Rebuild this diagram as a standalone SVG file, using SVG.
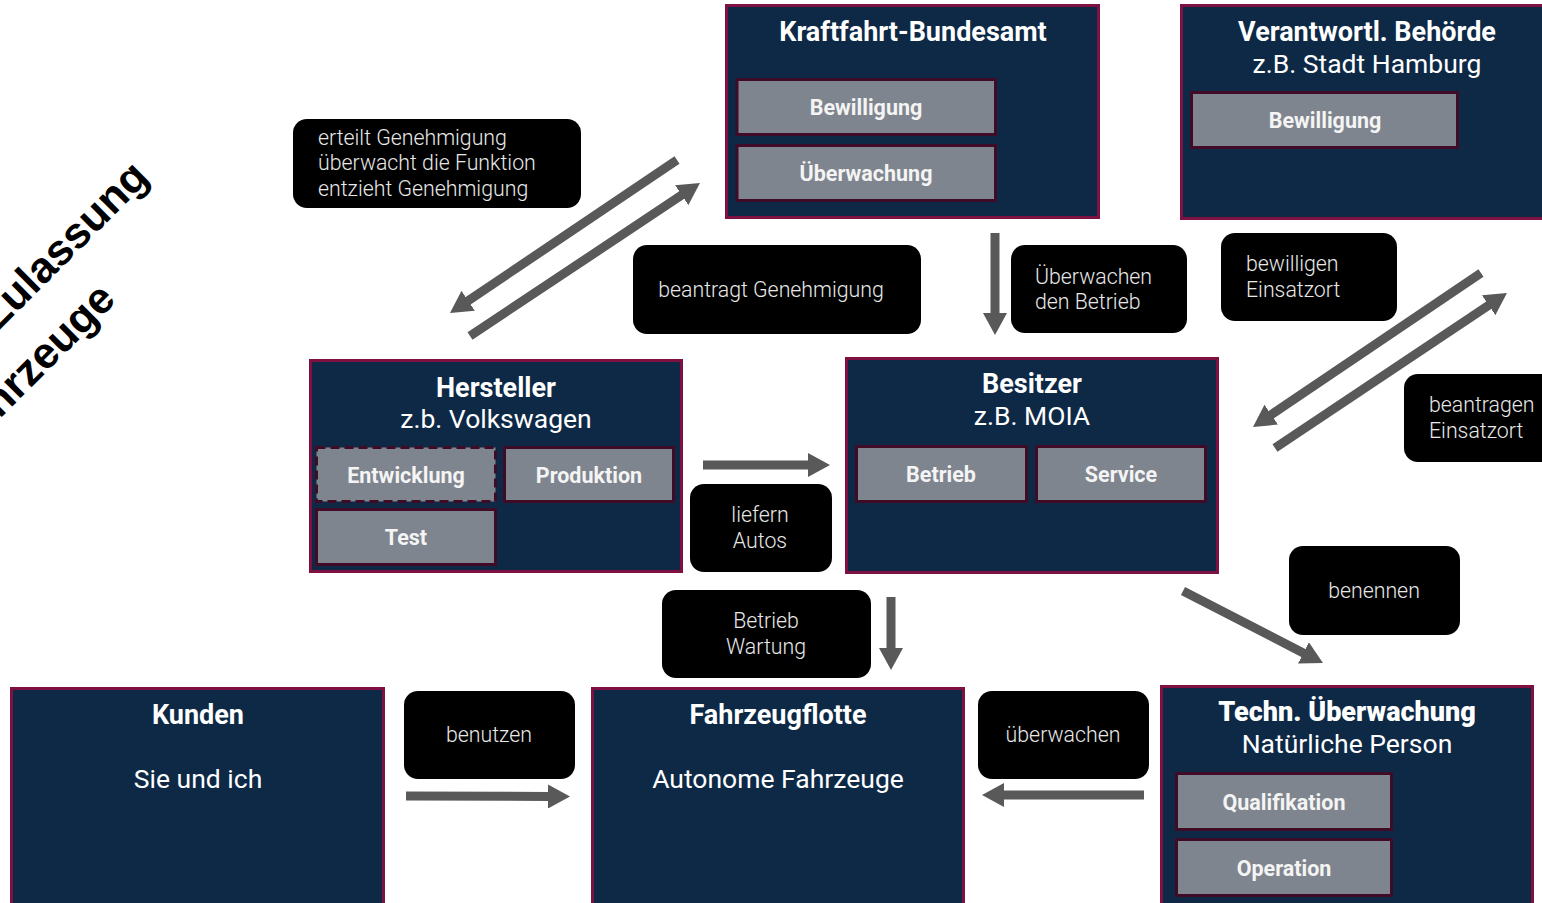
<svg xmlns="http://www.w3.org/2000/svg" width="1542" height="903" viewBox="0 0 1542 903">
<defs>
<style>
.box{fill:#0D2946;stroke:#7E1042;stroke-width:3}
.sub{fill:#7F858E;stroke:#3F0B26;stroke-width:3}
.subd{fill:#7F858E;stroke:#3F0B26;stroke-width:3;stroke-dasharray:9 5}
.lbl{fill:#000}
.t{font-family:Roboto,"Liberation Sans",sans-serif;font-size:27px;font-weight:700;fill:#fff;text-anchor:middle}
.s{font-family:Roboto,"Liberation Sans",sans-serif;font-size:26.5px;font-weight:400;fill:#fff;text-anchor:middle}
.st{font-family:Roboto,"Liberation Sans",sans-serif;font-size:21.5px;font-weight:700;fill:#F4F4F4;text-anchor:middle}
.l{font-family:Roboto,"Liberation Sans",sans-serif;font-size:21.3px;font-weight:300;fill:#E8E8E8}
.lc{font-family:Roboto,"Liberation Sans",sans-serif;font-size:21.3px;font-weight:300;fill:#E8E8E8;text-anchor:middle}
.arr{stroke:#595959;stroke-width:9;fill:none;marker-end:url(#ah)}
.title{font-family:"Liberation Sans",Arial,sans-serif;font-size:43.5px;font-weight:700;fill:#000;text-anchor:end}
</style>
<marker id="ah" markerUnits="userSpaceOnUse" markerWidth="24" markerHeight="24" viewBox="0 0 24 24" refX="1" refY="12" orient="auto">
<path d="M0,0 L22,12 L0,24 z" fill="#595959"/>
</marker>
</defs>
<rect width="1542" height="903" fill="#fff"/>

<g id="title">
<text class="title" transform="rotate(-45)" x="-20" y="233">Zulassung</text>
<text class="title" transform="rotate(-45)" x="-130" y="296">Fahrzeuge</text>
</g>

<g id="connectors">
<line class="arr" x1="677" y1="160" x2="467.4" y2="301.3"/>
<line class="arr" x1="470" y1="336" x2="682.5" y2="194.6"/>
<line class="arr" x1="995" y1="233" x2="995" y2="314"/>
<line class="arr" x1="1481" y1="273" x2="1270.4" y2="415.2"/>
<line class="arr" x1="1275" y1="448" x2="1489.5" y2="304.7"/>
<line class="arr" x1="703" y1="465" x2="809" y2="465"/>
<line class="arr" x1="1183" y1="591" x2="1304.3" y2="653.4"/>
<line class="arr" x1="891" y1="597" x2="891" y2="649"/>
<line class="arr" x1="406" y1="796" x2="549" y2="796.5"/>
<line class="arr" x1="1144" y1="795" x2="1003" y2="795"/>
</g>

<g id="kba">
<rect class="box" x="726.5" y="5.5" width="372" height="212"/>
<text class="t" x="913" y="41">Kraftfahrt-Bundesamt</text>
<rect class="sub" x="737" y="79.5" width="258.5" height="55"/>
<text class="st" x="866" y="115">Bewilligung</text>
<rect class="sub" x="737" y="145.5" width="258.5" height="55"/>
<text class="st" x="866" y="181">Überwachung</text>
</g>

<g id="behoerde">
<rect class="box" x="1181.5" y="5.5" width="365" height="213"/>
<text class="t" x="1367" y="41">Verantwortl. Behörde</text>
<text class="s" x="1367" y="73">z.B. Stadt Hamburg</text>
<rect class="sub" x="1191.5" y="92.5" width="266" height="55"/>
<text class="st" x="1325" y="128">Bewilligung</text>
</g>

<g id="hersteller">
<rect class="box" x="310.5" y="360.5" width="371" height="211"/>
<text class="t" x="496" y="397">Hersteller</text>
<text class="s" x="496" y="428">z.b. Volkswagen</text>
<rect class="subd" x="316.5" y="447.5" width="179" height="54"/>
<text class="st" x="406" y="483">Entwicklung</text>
<rect class="sub" x="504.5" y="447.5" width="169" height="54"/>
<text class="st" x="589" y="483">Produktion</text>
<rect class="sub" x="316.5" y="509.5" width="179" height="55"/>
<text class="st" x="406" y="545">Test</text>
</g>

<g id="besitzer">
<rect class="box" x="846.5" y="358.5" width="371" height="214"/>
<text class="t" x="1032" y="393">Besitzer</text>
<text class="s" x="1032" y="425">z.B. MOIA</text>
<rect class="sub" x="856.5" y="446.5" width="170" height="55"/>
<text class="st" x="941" y="482">Betrieb</text>
<rect class="sub" x="1036.5" y="446.5" width="169" height="55"/>
<text class="st" x="1121" y="482">Service</text>
</g>

<g id="kunden">
<rect class="box" x="11.5" y="688.5" width="372" height="216"/>
<text class="t" x="198" y="724">Kunden</text>
<text class="s" x="198" y="788">Sie und ich</text>
</g>

<g id="flotte">
<rect class="box" x="592.5" y="688.5" width="371" height="216"/>
<text class="t" x="778" y="724">Fahrzeugflotte</text>
<text class="s" x="778" y="788">Autonome Fahrzeuge</text>
</g>

<g id="techn">
<rect class="box" x="1161.5" y="686.5" width="371" height="218"/>
<text class="t" x="1347" y="721" style="font-weight:900">Techn. Überwachung</text>
<text class="s" x="1347" y="753">Natürliche Person</text>
<rect class="sub" x="1176.5" y="773.5" width="215" height="56"/>
<text class="st" x="1284" y="810">Qualifikation</text>
<rect class="sub" x="1176.5" y="839.5" width="215" height="56"/>
<text class="st" x="1284" y="876">Operation</text>
</g>

<g id="lbl-erteilt">
<rect class="lbl" x="293" y="119" width="288" height="89" rx="14"/>
<text class="l" x="318" y="145">erteilt Genehmigung</text>
<text class="l" x="318" y="170">überwacht die Funktion</text>
<text class="l" x="318" y="196">entzieht Genehmigung</text>
</g>
<g id="lbl-beantragt">
<rect class="lbl" x="633" y="245" width="288" height="89" rx="14"/>
<text class="lc" x="771" y="297">beantragt Genehmigung</text>
</g>
<g id="lbl-ueberwachen-betrieb">
<rect class="lbl" x="1011" y="245" width="176" height="88" rx="14"/>
<text class="l" x="1035" y="284">Überwachen</text>
<text class="l" x="1035" y="309">den Betrieb</text>
</g>
<g id="lbl-bewilligen">
<rect class="lbl" x="1221" y="233" width="176" height="88" rx="14"/>
<text class="l" x="1246" y="271">bewilligen</text>
<text class="l" x="1246" y="297">Einsatzort</text>
</g>
<g id="lbl-beantragen">
<rect class="lbl" x="1404" y="374" width="160" height="88" rx="14"/>
<text class="l" x="1429" y="412">beantragen</text>
<text class="l" x="1429" y="438">Einsatzort</text>
</g>
<g id="lbl-liefern">
<rect class="lbl" x="690" y="484" width="142" height="88" rx="14"/>
<text class="lc" x="760" y="522">liefern</text>
<text class="lc" x="760" y="548">Autos</text>
</g>
<g id="lbl-benennen">
<rect class="lbl" x="1289" y="546" width="171" height="89" rx="14"/>
<text class="lc" x="1374" y="598">benennen</text>
</g>
<g id="lbl-betrieb">
<rect class="lbl" x="662" y="590" width="209" height="88" rx="14"/>
<text class="lc" x="766" y="628">Betrieb</text>
<text class="lc" x="766" y="654">Wartung</text>
</g>
<g id="lbl-benutzen">
<rect class="lbl" x="404" y="691" width="171" height="88" rx="14"/>
<text class="lc" x="489" y="742">benutzen</text>
</g>
<g id="lbl-ueberwachen">
<rect class="lbl" x="978" y="691" width="171" height="88" rx="14"/>
<text class="lc" x="1063" y="742">überwachen</text>
</g>
</svg>
